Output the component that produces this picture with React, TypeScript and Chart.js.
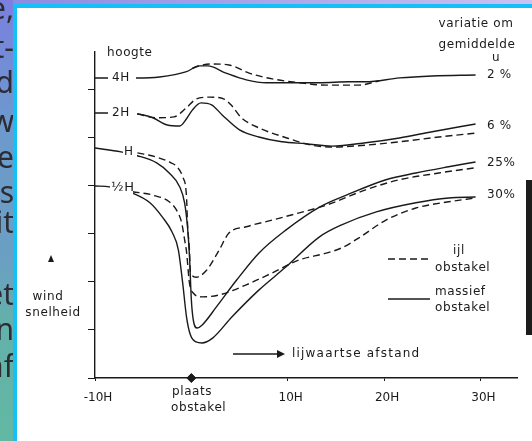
import React, { useEffect, useRef } from "react";
import { Chart, registerables } from "chart.js";

Chart.register(...registerables);

const W = 532;
const H = 441;

// x: leeward distance in obstacle heights H; y: wind speed (arbitrary units, one per axis tick)
const xTicks = [-10, 0, 10, 20, 30];
const xTickLabels = ["-10H", "", "10H", "20H", "30H"];
const yTicks = [0, 1, 2, 3, 4, 5, 6];

const h4SolidX = [-10, -5.7, -3.3, -0.5, 0.8, 1.7, 3.6, 5.7, 7.8, 10.5, 13.3, 16.4, 18.1, 21.6, 25.0, 29.5];
const h4SolidY = [6.25, 6.25, 6.27, 6.38, 6.5, 6.5, 6.35, 6.21, 6.15, 6.15, 6.15, 6.17, 6.17, 6.25, 6.29, 6.31];
const h4DashedX = [0.1, 0.8, 2.1, 3.9, 6.0, 8.4, 11.2, 14.0, 17.4, 19.5];
const h4DashedY = [6.45, 6.5, 6.54, 6.52, 6.35, 6.23, 6.15, 6.1, 6.1, 6.19];

const h2SolidX = [-10, -5.6, -4.0, -2.5, -1.2, -0.5, 0.1, 1.0, 2.1, 3.2, 5.0, 7.0, 9.4, 11.9, 14.6, 18.1, 21.6, 25.0, 29.5];
const h2SolidY = [5.52, 5.5, 5.42, 5.27, 5.25, 5.4, 5.58, 5.73, 5.69, 5.48, 5.17, 5.02, 4.92, 4.88, 4.83, 4.9, 5.0, 5.13, 5.29];
const h2DashedX = [-5.6, -3.6, -1.8, -0.5, 0.5, 1.9, 3.4, 4.2, 5.2, 7.0, 9.6, 12.5, 14.6, 18.1, 21.6, 25.7, 29.5];
const h2DashedY = [5.5, 5.42, 5.44, 5.63, 5.81, 5.85, 5.81, 5.67, 5.42, 5.21, 5.02, 4.85, 4.81, 4.85, 4.92, 5.02, 5.1];

const h1SolidX = [-10, -7.3, -5.6, -3.6, -2.3, -1.2, -0.7, -0.4, -0.2, 0, 0.2, 0.6, 1.1, 2.6, 4.7, 7.0, 9.8, 13.3, 16.1, 20.2, 23.3, 26.7, 29.5];
const h1SolidY = [4.79, 4.71, 4.63, 4.48, 4.27, 3.98, 3.65, 3.15, 2.56, 1.63, 1.21, 1.04, 1.1, 1.48, 2.04, 2.6, 3.08, 3.56, 3.81, 4.13, 4.27, 4.4, 4.5];
const h1DashedX = [-5.6, -3.6, -2.3, -1.5, -0.9, -0.5, -0.4, -0.2, -0.1, 0.5, 1.6, 2.9, 3.9, 5.7, 8.4, 11.2, 14.0, 18.1, 21.6, 25.7, 29.5];
const h1DashedY = [4.69, 4.6, 4.5, 4.4, 4.19, 3.77, 3.23, 2.67, 2.21, 2.1, 2.25, 2.67, 3.02, 3.15, 3.29, 3.44, 3.6, 3.92, 4.13, 4.27, 4.38];

const hHalfSolidX = [-10, -8.5, -6.1, -4.3, -3.0, -2.0, -1.35, -0.9, -0.5, -0.1, 0.5, 1.1, 2.2, 4.2, 7.0, 9.8, 13.3, 15.6, 19.2, 23.3, 26.7, 29.5];
const hHalfSolidY = [4.0, 3.98, 3.85, 3.65, 3.35, 3.04, 2.67, 1.98, 1.27, 0.9, 0.75, 0.73, 0.83, 1.27, 1.83, 2.31, 2.94, 3.19, 3.46, 3.65, 3.75, 3.77];
const hHalfDashedX = [-6.1, -4.0, -2.3, -1.55, -1.0, -0.7, -0.5, -0.2, 0.2, 1.1, 2.9, 5.7, 8.4, 11.2, 14.0, 15.6, 17.4, 20.2, 23.3, 26.7, 29.5];
const hHalfDashedY = [3.88, 3.81, 3.67, 3.5, 3.23, 2.88, 2.63, 1.98, 1.77, 1.69, 1.73, 1.94, 2.19, 2.46, 2.6, 2.71, 2.92, 3.29, 3.54, 3.67, 3.75];

const obstacleX = [0];
const obstacleY = [0];

const heightLabels = ["4H", "2H", "H", "½H"];
const variationLabels = ["2 %", "6 %", "25%", "30%"];
const headerLabels = ["variatie om", "gemiddelde", "u"];
const legendLabels = ["ijl", "obstakel", "massief", "obstakel"];
const slideFragments = ["e,", "t-", "d", "w", "e", "s", "it", "et", "n", "af"];

const INK = "#1a1a1a";
const FONT = '12px "DejaVu Sans"';

const pts = (xs: number[], ys: number[]) => xs.map((x, i) => ({ x, y: ys[i] }));

const lineStyle = {
  borderColor: INK,
  borderWidth: 1.4,
  pointRadius: 0,
  showLine: true,
  fill: false,
  cubicInterpolationMode: "monotone" as const,
};
const dashStyle = { ...lineStyle, borderDash: [7, 4] };

const backgroundPlugin = {
  id: "slideBackground",
  beforeDraw(chart: any) {
    const ctx = chart.ctx as CanvasRenderingContext2D;
    ctx.save();
    ctx.fillStyle = "#ffffff";
    ctx.fillRect(0, 0, W, H);
    const g = ctx.createLinearGradient(0, 0, 0, H);
    g.addColorStop(0, "#7a80e0");
    g.addColorStop(0.3, "#6c9acc");
    g.addColorStop(0.6, "#6aa0c2");
    g.addColorStop(0.72, "#64b0ac");
    g.addColorStop(1, "#62b8a2");
    ctx.fillStyle = g;
    ctx.fillRect(0, 0, 13, H);
    const g2 = ctx.createLinearGradient(13, 0, W, 0);
    g2.addColorStop(0, "#8a8ce2");
    g2.addColorStop(1, "#cac2f2");
    ctx.fillStyle = g2;
    ctx.fillRect(13, 0, W - 13, 4);
    // clipped slide text behind the picture
    ctx.save();
    ctx.beginPath();
    ctx.rect(0, 0, 13, H);
    ctx.clip();
    ctx.font = '30px "Noto Sans"';
    ctx.fillStyle = "#2c2c34";
    ctx.textAlign = "right";
    ctx.textBaseline = "alphabetic";
    const baselines = [19, 58, 93, 132, 168, 203, 233, 305, 340, 377];
    slideFragments.forEach((s, i) => ctx.fillText(s, 14, baselines[i]));
    ctx.restore();
    ctx.fillStyle = "#14c0f6";
    ctx.fillRect(13, 4, 4, H - 4);
    ctx.fillRect(13, 4, W - 13, 4);
    ctx.fillStyle = "#1c1c1c";
    ctx.fillRect(526, 180, 6, 155);
    ctx.restore();
  },
};

const annotationPlugin = {
  id: "annotations",
  afterDatasetsDraw(chart: any) {
    const ctx = chart.ctx as CanvasRenderingContext2D;
    ctx.save();
    ctx.font = FONT;
    (ctx as any).letterSpacing = "0.6px";
    ctx.fillStyle = INK;
    ctx.textBaseline = "middle";
    const text = (s: string, x: number, y: number, align: CanvasTextAlign = "left") => {
      ctx.textAlign = align;
      ctx.fillText(s, x, y);
    };
    // height labels interrupting the curves
    const hl: [number, number, number, number][] = [
      [112, 78, 108, 136],
      [112, 113, 108, 137],
      [124, 152, 123, 137],
      [111, 188, 110, 133],
    ];
    heightLabels.forEach((s, i) => {
      const [x, y, x0, x1] = hl[i];
      ctx.fillStyle = "#ffffff";
      ctx.fillRect(x0, y - 7, x1 - x0, 14);
      ctx.fillStyle = INK;
      ctx.font = s === "½H" ? '13px "DejaVu Sans"' : FONT;
      text(s, x, y);
    });
    ctx.font = FONT;
    text("hoogte", 107, 53);
    text(headerLabels[0], 476, 24, "center");
    text(headerLabels[1], 477, 45, "center");
    text(headerLabels[2], 496, 58, "center");
    const vy = [75, 126, 163, 195];
    variationLabels.forEach((s, i) => text(s, 487, vy[i]));
    // legend
    text(legendLabels[0], 459, 251, "center");
    text(legendLabels[1], 435, 268);
    text(legendLabels[2], 435, 292);
    text(legendLabels[3], 435, 308);
    ctx.strokeStyle = INK;
    ctx.lineWidth = 1.4;
    ctx.setLineDash([7, 4]);
    ctx.beginPath();
    ctx.moveTo(388, 259);
    ctx.lineTo(428, 259);
    ctx.stroke();
    ctx.setLineDash([]);
    ctx.beginPath();
    ctx.moveTo(388, 299);
    ctx.lineTo(430, 299);
    ctx.stroke();
    // direction arrow
    ctx.beginPath();
    ctx.moveTo(233, 354);
    ctx.lineTo(278, 354);
    ctx.stroke();
    ctx.beginPath();
    ctx.moveTo(277, 350);
    ctx.lineTo(285, 354);
    ctx.lineTo(277, 358);
    ctx.closePath();
    ctx.fill();
    (ctx as any).letterSpacing = "1.2px";
    text("lijwaartse afstand", 292, 354);
    (ctx as any).letterSpacing = "0.6px";
    // wind speed label
    ctx.beginPath();
    ctx.moveTo(48, 262);
    ctx.lineTo(54, 262);
    ctx.lineTo(51, 255);
    ctx.closePath();
    ctx.fill();
    text("wind", 48, 297, "center");
    text("snelheid", 53, 313, "center");
    text("plaats", 172, 392);
    text("obstakel", 171, 408);
    ctx.restore();
  },
};

export default function App() {
  const ref = useRef<HTMLCanvasElement | null>(null);
  useEffect(() => {
    if (!ref.current) return;
    const chart = new Chart(ref.current, {
      type: "scatter",
      data: {
        datasets: [
          { ...lineStyle, data: pts(h4SolidX, h4SolidY) },
          { ...dashStyle, data: pts(h4DashedX, h4DashedY) },
          { ...lineStyle, data: pts(h2SolidX, h2SolidY) },
          { ...dashStyle, data: pts(h2DashedX, h2DashedY) },
          { ...lineStyle, data: pts(h1SolidX, h1SolidY) },
          { ...dashStyle, data: pts(h1DashedX, h1DashedY) },
          { ...lineStyle, data: pts(hHalfSolidX, hHalfSolidY) },
          { ...dashStyle, data: pts(hHalfDashedX, hHalfDashedY) },
          {
            data: pts(obstacleX, obstacleY),
            showLine: false,
            pointStyle: "rectRot",
            pointRadius: 4.5,
            backgroundColor: INK,
            borderColor: INK,
            borderWidth: 1,
            clip: false,
          } as any,
        ],
      },
      options: {
        animation: false,
        responsive: false,
        devicePixelRatio: 1,
        events: [],
        layout: { padding: { left: 0, top: 52, right: 15, bottom: 0 } },
        plugins: { legend: { display: false }, tooltip: { enabled: false } },
        scales: {
          x: {
            type: "linear",
            position: "bottom",
            min: -10,
            max: 33.8,
            afterBuildTicks: (s: any) => {
              s.ticks = xTicks.map((v) => ({ value: v }));
            },
            afterFit: (s: any) => {
              s.height = 63;
            },
            grid: { drawOnChartArea: false, drawTicks: true, tickLength: 3, color: INK },
            border: { display: true, color: INK, width: 1.4 },
            ticks: {
              callback: (_v: any, i: number) => xTickLabels[i],
              color: INK,
              font: { family: "DejaVu Sans", size: 12 },
              padding: 10,
              labelOffset: 3,
              maxRotation: 0,
              autoSkip: false,
            },
          },
          y: {
            type: "linear",
            min: 0,
            max: 6.79,
            afterBuildTicks: (s: any) => {
              s.ticks = yTicks.map((v) => ({ value: v }));
            },
            afterFit: (s: any) => {
              s.width = 95;
            },
            grid: { drawOnChartArea: false, drawTicks: true, tickLength: 7, color: INK },
            border: { display: true, color: INK, width: 1.4 },
            ticks: { display: false },
          },
        },
      },
      plugins: [backgroundPlugin, annotationPlugin],
    });
    return () => chart.destroy();
  }, []);
  return (
    <div style={{ position: "fixed", left: 0, top: 0, width: W, height: H }}>
      <canvas ref={ref} width={W} height={H} style={{ width: W, height: H, display: "block" }} />
    </div>
  );
}
